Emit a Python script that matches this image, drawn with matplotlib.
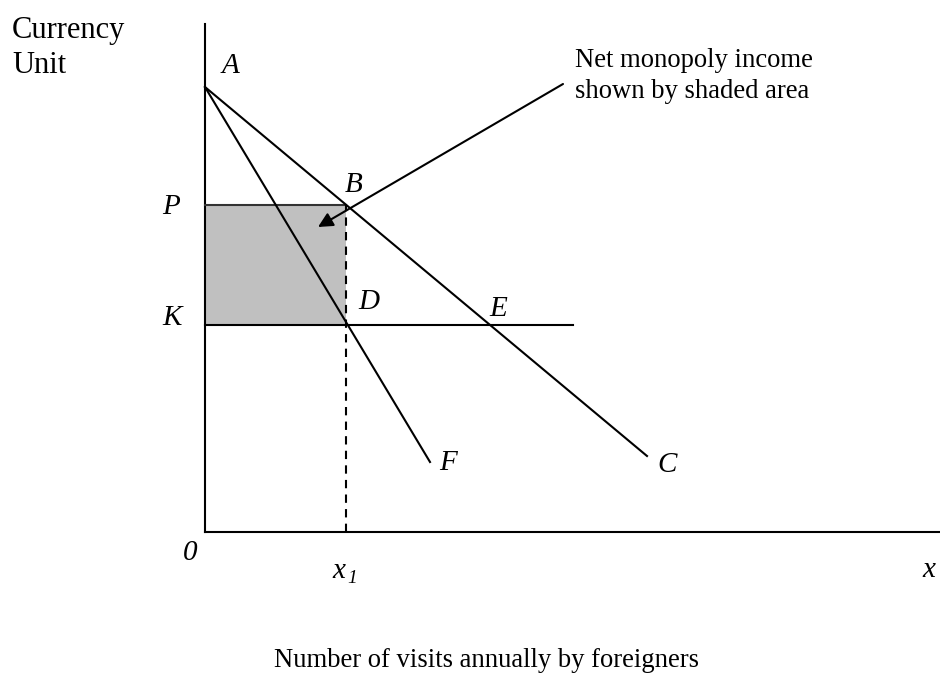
import matplotlib.pyplot as plt
from matplotlib.patches import Rectangle

plt.rcParams['font.family'] = ['Liberation Serif', 'DejaVu Serif']

# diagram values (origin at 0,0)
demand_x = [0, 442]      # A -> C
demand_y = [445, 76]
mr_x = [0, 225]          # A -> F
mr_y = [445, 70]
cost_y = 207             # K level
cost_end = 368
price_y = 327            # P level
x1 = 141
axis_top = 508
axis_right = 735

# point labels: (text, x, baseline y)
point_labels = [('A', 25, 459), ('B', 149, 340), ('P', -34, 318),
                ('K', -33, 207), ('D', 164, 223), ('E', 293, 216),
                ('F', 243, 62), ('C', 462, 60), ('0', -15, -28),
                ('x', 724, -45)]

fig = plt.figure(figsize=(9.4, 6.73), dpi=100)
ax = fig.add_axes([0, 0, 1, 1])
ax.set_xlim(-205, 735)
ax.set_ylim(-141, 532)
ax.axis('off')

lw = 1.5
# axes
ax.plot([0, 0], [0, axis_top], color='black', lw=lw)
ax.plot([0, axis_right], [0, 0], color='black', lw=lw)

# shaded monopoly income
ax.add_patch(Rectangle((0, cost_y), x1, price_y - cost_y, facecolor='#c0c0c0',
                       edgecolor='none', zorder=1))
ax.plot([0, x1], [price_y, price_y], color='#333333', lw=lw)

# demand and marginal revenue
ax.plot(demand_x, demand_y, color='black', lw=lw)
ax.plot(mr_x, mr_y, color='black', lw=lw)

# cost line and x1 dashed
ax.plot([0, cost_end], [cost_y, cost_y], color='black', lw=lw)
ax.plot([x1, x1], [0, price_y], color='black', lw=lw, ls=(0, (4, 3)))

# annotation arrow
ax.annotate('', xy=(113, 305), xytext=(358, 448),
            arrowprops=dict(arrowstyle='-|>', color='black', lw=lw,
                            mutation_scale=22, shrinkA=0, shrinkB=0))

fs = 19.2
for txt, tx, ty in point_labels:
    ax.text(tx, ty, txt, ha='center', va='baseline', fontsize=21, style='italic')
ax.text(134, -46, 'x', ha='center', va='baseline', fontsize=21, style='italic')
ax.text(142, -51, '1', ha='left', va='baseline', fontsize=14, style='italic')

ax.text(-193, 494, 'Currency', ha='left', va='baseline', fontsize=22)
ax.text(-193, 459, 'Unit', ha='left', va='baseline', fontsize=22)
ax.text(370, 465, 'Net monopoly income', ha='left', va='baseline', fontsize=fs)
ax.text(370, 434, 'shown by shaded area', ha='left', va='baseline', fontsize=fs)
ax.text(282, -135, 'Number of visits annually by foreigners', ha='center',
        va='baseline', fontsize=fs)

fig.savefig('out.png', dpi=100)
